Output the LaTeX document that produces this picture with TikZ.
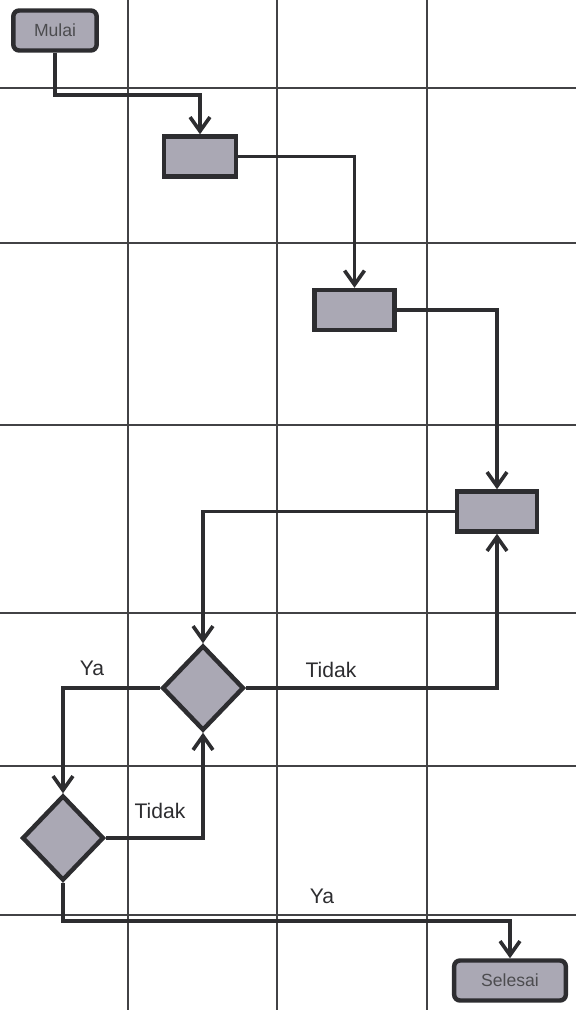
\documentclass[tikz,border=0pt]{standalone}
\usepackage{fontspec}
\setmainfont{Liberation Sans}
\usetikzlibrary{arrows.meta,shapes.geometric}
\definecolor{boxgray}{RGB}{170,168,180}
\definecolor{ink}{RGB}{45,45,48}
\tikzset{
  lane/.style={line width=1.4pt, draw=ink!90},
  proc/.style={draw=ink, line width=3.8pt, fill=boxgray, inner sep=0pt,
               minimum height=1.2cm},
  term/.style={proc, rounded corners=5pt, text=ink!85,
               font=\fontsize{15}{17}\selectfont},
  decide/.style={diamond, draw=ink, line width=3.8pt, fill=boxgray, inner sep=0pt,
                 minimum width=2.45cm, minimum height=2.55cm},
  flow/.style={-{Straight Barb[length=12pt,width=17pt]}, line width=3.1pt, draw=ink},
  lbl/.style={font=\fontsize{18}{20}\selectfont, text=ink},
}

\begin{document}
\begin{tikzpicture}[x=0.03cm, y=-0.03cm]
\useasboundingbox (0,0) rectangle (576,1010);

%% grid
\foreach \gx in {128,277,427}
  \draw[lane] (\gx,0) -- (\gx,1010);
\foreach \gy in {88,243,425,613,766,915}
  \draw[lane] (0,\gy) -- (576,\gy);

%% steps
\node[term, minimum width=2.5cm] (mulai) at (55,30.5) {Mulai};
\node[proc, minimum width=2.15cm] (proc1) at (200,156.5) {};
\node[proc, minimum width=2.4cm] (proc2) at (354.5,310) {};
\node[proc, minimum width=2.4cm] (proc3) at (497,511.5) {};
\node[decide] (dec1) at (203,688) {};
\node[decide] (dec2) at (63,838) {};
\node[term, minimum width=3.35cm] (selesai) at (510,980.5) {Selesai};

\coordinate (bend1) at (128,95);
\coordinate (bend2) at (277,921);

%% connectors
\draw[flow] (mulai.south) |- (bend1) -| (proc1.north);
\draw[flow] (proc1.east) -| (proc2.north);
\draw[flow] (proc2.east) -| (proc3.north);
\draw[flow] (proc3.west) -| (dec1.north);
\draw[flow] (dec1.east) -| (proc3.south);
\draw[flow] (dec1.west) -| (dec2.north);
\draw[flow] (dec2.east) -| (dec1.south);
\draw[flow] (dec2.south) |- (bend2) -| (selesai.north);

%% labels
\node[lbl] (ya1) at (92,668) {Ya};
\node[lbl] (tidak1) at (331,670) {Tidak};
\node[lbl] (tidak2) at (160,811) {Tidak};
\node[lbl] (ya2) at (322,896) {Ya};

\end{tikzpicture}
\end{document}
